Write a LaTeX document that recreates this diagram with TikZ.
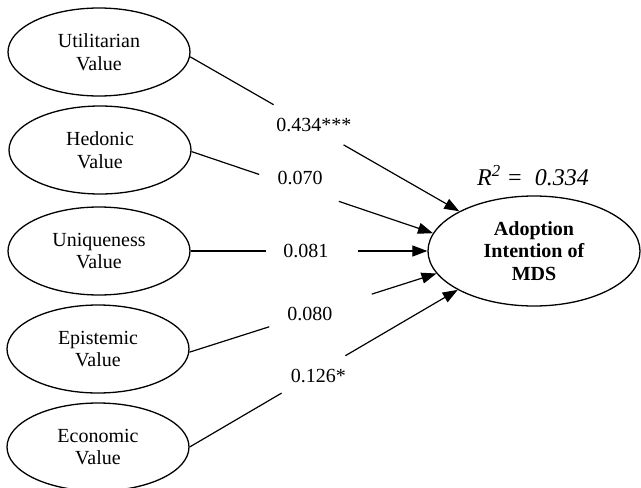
\documentclass[tikz,border=0pt]{standalone}
\usepackage{fontspec}
\setmainfont{Liberation Serif}
\usetikzlibrary{shapes.geometric,arrows.meta}
\begin{document}
\begin{tikzpicture}[x=1pt,y=-1pt,
  construct/.style={ellipse,draw,line width=1.3pt,minimum width=182pt,minimum height=88pt,
    inner sep=0pt,align=center,font=\fontsize{20}{22.5}\selectfont},
  outcome/.style={ellipse,draw,line width=1.3pt,minimum width=212pt,minimum height=110pt,
    inner sep=0pt,align=center,font=\fontsize{20}{22.5}\selectfont\bfseries},
  link/.style={line width=1.2pt},
  arrowlink/.style={link,-{Triangle[length=15pt,width=11pt]}},
  coef/.style={font=\fontsize{20}{22}\selectfont,inner sep=0pt}]
\useasboundingbox (0,0) rectangle (641,488);

% latent constructs
\node[construct] (util) at (99,52)  {Utilitarian\\Value};
\node[construct] (hed)  at (100,150) {Hedonic\\Value};
\node[construct] (uniq) at (99,251) {Uniqueness\\Value};
\node[construct] (epi)  at (98,349) {Epistemic\\Value};
\node[construct] (eco)  at (98,447) {Economic\\Value};

% dependent construct
\node[outcome] (adopt) at (534,251) {Adoption\\Intention of\\MDS};
\node[font=\fontsize{24}{26}\selectfont\itshape] (rsq) at (533,176) {R\textsuperscript{2} =\ \ 0.334};

% structural paths, each broken around its coefficient
\path (util.-3) -- (adopt.152)
  coordinate[pos=0.31] (util-a) coordinate[pos=0.57] (util-b)
  node[coef,pos=0.46,yshift=3pt] (c1) {0.434***};
\draw[link] (util.-3) -- (util-a);
\draw[arrowlink] (util-b) -- (adopt.152);

\path (hed.-1) -- (adopt.170)
  coordinate[pos=0.28] (hed-a) coordinate[pos=0.61] (hed-b)
  node[coef,pos=0.45,yshift=10pt] (c2) {0.070};
\draw[link] (hed.-1) -- (hed-a);
\draw[arrowlink] (hed-b) -- (adopt.170);

\path (uniq.east) -- (adopt.180)
  coordinate[pos=0.32] (uniq-a) coordinate[pos=0.706] (uniq-b)
  node[coef,pos=0.487] (c3) {0.081};
\draw[link] (uniq.east) -- (uniq-a);
\draw[arrowlink] (uniq-b) -- (adopt.180);

\path (epi.-2) -- (adopt.193)
  coordinate[pos=0.323] (epi-a) coordinate[pos=0.738] (epi-b)
  node[coef,pos=0.488] (c4) {0.080};
\draw[link] (epi.-2) -- (epi-a);
\draw[arrowlink] (epi-b) -- (adopt.193);

\path (eco.east) -- (adopt.207)
  coordinate[pos=0.343] (eco-a) coordinate[pos=0.581] (eco-b)
  node[coef,pos=0.48,yshift=-4pt] (c5) {0.126*};
\draw[link] (eco.east) -- (eco-a);
\draw[arrowlink] (eco-b) -- (adopt.207);
\end{tikzpicture}
\end{document}
